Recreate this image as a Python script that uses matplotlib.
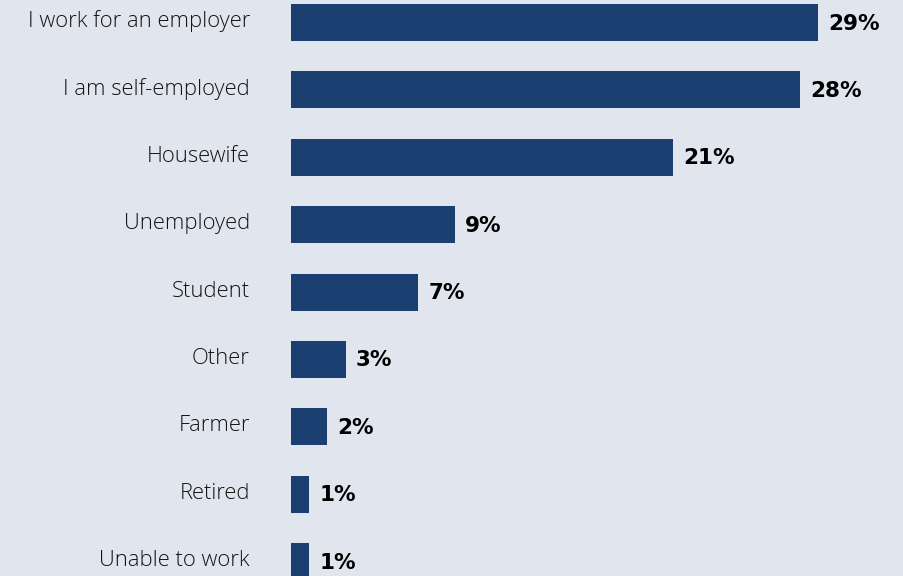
import matplotlib
matplotlib.use('Agg')
import matplotlib.pyplot as plt

# data, top to bottom
categories = ['I work for an employer', 'I am self-employed', 'Housewife', 'Unemployed',
              'Student', 'Other', 'Farmer', 'Retired', 'Unable to work']
shares = [29, 28, 21, 9, 7, 3, 2, 1, 1]
value_labels = ['29%', '28%', '21%', '9%', '7%', '3%', '2%', '1%', '1%']

bg = '#e1e6ee'
bar_col = '#1a3f70'

W, H = 904, 576
fig = plt.figure(figsize=(W / 100, H / 100), dpi=100)
fig.patch.set_facecolor(bg)

# axes from bar start (x=291px) to right edge, full height
x0 = 291
ax = fig.add_axes([x0 / W, 0, 1 - x0 / W, 1])
ax.set_facecolor(bg)

px_per_unit = 18.18
pitch = 67.4
top_center = 22.5

ypos = list(range(len(categories)))
ax.barh(ypos, shares, height=37 / pitch, color=bar_col)

ax.set_xlim(0, (W - x0) / px_per_unit)
ax.set_ylim((H - top_center) / pitch, -top_center / pitch)
ax.axis('off')

for i, (cat, v, lab) in enumerate(zip(categories, shares, value_labels)):
    ax.annotate(cat, xy=(0, i), xytext=(-41, 1), textcoords='offset pixels',
                ha='right', va='center', fontsize=15.8, fontweight='light', color='#141414',
                family=['Open Sans', 'DejaVu Sans'])
    ax.annotate(lab, xy=(v, i), xytext=(10, -1), textcoords='offset pixels',
                ha='left', va='center', fontsize=15.5, fontweight='bold', color='black',
                family=['DejaVu Sans'])

fig.savefig('out.png', dpi=100, facecolor=bg)
